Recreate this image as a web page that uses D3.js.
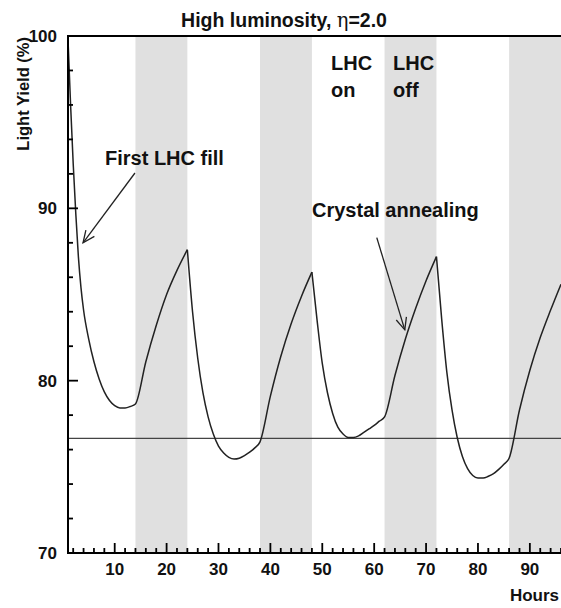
<!DOCTYPE html>
<html>
<head>
<meta charset="utf-8">
<script src="https://cdn.jsdelivr.net/npm/d3@7"></script>
<style>
  html, body { margin: 0; padding: 0; background: #fff; }
  svg { display: block; font-family: "Liberation Sans", Arial, Helvetica, sans-serif; }
  .lbl { font-weight: bold; fill: #111; }
</style>
</head>
<body>
<svg id="chart" width="561" height="608"></svg>
<script>
// Light yield of a crystal over four LHC fill cycles (hours vs %)
const hours = [1, 1.5, 2, 2.5, 3, 3.5, 4, 5, 6, 7, 8, 9, 10, 11, 12, 13, 14,
  16, 18, 20, 22, 24,
  25, 26, 27, 28, 29, 30, 31, 32, 33, 34, 35, 36, 37, 38,
  40, 42, 44, 46, 48,
  49, 50, 51, 52, 53, 54, 55, 56, 57, 58, 59, 60, 61, 62,
  64, 66, 68, 70, 72,
  73, 74, 75, 76, 77, 78, 79, 80, 81, 82, 83, 84, 85, 86,
  88, 90, 92, 94, 96];
const lightYield = [99.8, 96.0, 92.6, 89.7, 87.2, 85.4, 84.1, 82.4, 81.1, 80.1, 79.35, 78.85, 78.55, 78.42, 78.42, 78.5, 78.65,
  81.1, 83.2, 85.0, 86.4, 87.6,
  84.0, 81.3, 79.3, 77.9, 76.9, 76.2, 75.8, 75.55, 75.45, 75.5, 75.65, 75.85, 76.1, 76.45,
  79.1, 81.4, 83.3, 84.9, 86.3,
  83.5, 81.0, 79.3, 78.1, 77.3, 76.9, 76.7, 76.7, 76.8, 77.0, 77.2, 77.4, 77.65, 77.9,
  80.3, 82.4, 84.2, 85.8, 87.2,
  83.6, 80.5, 78.3, 76.7, 75.6, 74.9, 74.5, 74.35, 74.35, 74.45, 74.6, 74.85, 75.15, 75.5,
  78.3, 80.6, 82.5, 84.1, 85.6];
// Periods with the beam off (start, end in hours)
const lhcOff = [[14, 24], [38, 48], [62, 72], [86, 96]];
const refLevel = 76.65;
const xTicks = [10, 20, 30, 40, 50, 60, 70, 80, 90];
const yTicks = [70, 80, 90, 100];
const xDomain = [1, 96];
const yDomain = [70, 100];

const svg = d3.select("#chart");
const m = { left: 68, right: 561, top: 36, bottom: 553 };

const x = d3.scaleLinear().domain(xDomain).range([m.left, m.right]);
const y = d3.scaleLinear().domain(yDomain).range([m.bottom, m.top]);

// shaded beam-off bands
svg.append("g").selectAll("rect").data(lhcOff).join("rect")
  .attr("x", d => x(d[0]))
  .attr("width", d => x(d[1]) - x(d[0]))
  .attr("y", m.top)
  .attr("height", m.bottom - m.top)
  .attr("fill", "#e0e0e0");

// reference level
svg.append("line")
  .attr("x1", m.left).attr("x2", m.right)
  .attr("y1", y(refLevel)).attr("y2", y(refLevel))
  .attr("stroke", "#444").attr("stroke-width", 1.1);

// curve, split at the beam turn-on points so the peaks stay sharp
const cusps = lhcOff.map(d => d[1]).filter(h => h < xDomain[1]);
const pts = hours.map((h, i) => [h, lightYield[i]]);
const bounds = [xDomain[0], ...cusps, xDomain[1]];
const line = d3.line().x(d => x(d[0])).y(d => y(d[1])).curve(d3.curveMonotoneX);
for (let i = 0; i < bounds.length - 1; i++) {
  const seg = pts.filter(p => p[0] >= bounds[i] && p[0] <= bounds[i + 1]);
  svg.append("path").datum(seg)
    .attr("d", line)
    .attr("fill", "none")
    .attr("stroke", "#222")
    .attr("stroke-width", 1.5);
}

// frame lines
svg.append("line").attr("x1", m.left - 1).attr("x2", m.right).attr("y1", m.top).attr("y2", m.top)
  .attr("stroke", "#000").attr("stroke-width", 2);
svg.append("line").attr("x1", m.left).attr("x2", m.left).attr("y1", m.top - 1).attr("y2", m.bottom + 1)
  .attr("stroke", "#000").attr("stroke-width", 2);
svg.append("line").attr("x1", m.left - 1).attr("x2", m.right).attr("y1", m.bottom).attr("y2", m.bottom)
  .attr("stroke", "#000").attr("stroke-width", 2);

// inward ticks: long on labelled values, short every 2 units
const yMinor = d3.range(yDomain[0], yDomain[1] + 0.01, 2);
svg.append("g").selectAll("line").data(yMinor).join("line")
  .attr("x1", m.left)
  .attr("x2", d => m.left + (d % 10 === 0 ? 10 : 5))
  .attr("y1", d => y(d)).attr("y2", d => y(d))
  .attr("stroke", "#000").attr("stroke-width", 1.8);

const xMinor = d3.range(2, xDomain[1] + 0.01, 2);
svg.append("g").selectAll("line").data(xMinor).join("line")
  .attr("x1", d => x(d)).attr("x2", d => x(d))
  .attr("y1", m.bottom)
  .attr("y2", d => m.bottom - (d % 10 === 0 ? 10 : 5))
  .attr("stroke", "#000").attr("stroke-width", 1.8);

// tick labels
svg.append("g").selectAll("text").data(yTicks).join("text")
  .attr("class", "lbl")
  .attr("x", m.left - 11)
  .attr("y", d => y(d))
  .attr("dy", "0.36em")
  .attr("text-anchor", "end")
  .attr("font-size", 17)
  .text(d => d);

svg.append("g").selectAll("text").data(xTicks).join("text")
  .attr("class", "lbl")
  .attr("x", d => x(d))
  .attr("y", 575)
  .attr("text-anchor", "middle")
  .attr("font-size", 17)
  .text(d => d);

// axis titles
svg.append("text").attr("class", "lbl")
  .attr("transform", "translate(29,37) rotate(-90)")
  .attr("text-anchor", "end")
  .attr("font-size", 16.5)
  .text("Light Yield (%)");

svg.append("text").attr("class", "lbl")
  .attr("x", 559).attr("y", 601)
  .attr("text-anchor", "end")
  .attr("font-size", 17)
  .text("Hours");

// title
const title = svg.append("text").attr("class", "lbl")
  .attr("x", 284).attr("y", 27)
  .attr("text-anchor", "middle")
  .attr("font-size", 19.5);
title.append("tspan").text("High luminosity, ");
title.append("tspan").attr("font-family", "'DejaVu Serif', 'Liberation Serif', serif")
  .attr("font-weight", "normal").text("η");
title.append("tspan").text("=2.0");

// annotations
const ann = svg.append("g").attr("class", "lbl").attr("font-size", 20);
ann.append("text").attr("x", 331).attr("y", 70).text("LHC");
ann.append("text").attr("x", 331).attr("y", 97).text("on");
ann.append("text").attr("x", 393).attr("y", 70).text("LHC");
ann.append("text").attr("x", 393).attr("y", 97).text("off");
ann.append("text").attr("x", 105).attr("y", 165).text("First LHC fill");
ann.append("text").attr("x", 312).attr("y", 217).text("Crystal annealing");

// arrows (tail -> tip, in data units)
const arrows = [
  { from: [13.9, 92.05], to: [3.9, 88.0] },
  { from: [60.5, 88.3], to: [65.9, 82.95] }
];
arrows.forEach(a => {
  const x0 = x(a.from[0]), y0 = y(a.from[1]);
  const x1 = x(a.to[0]), y1 = y(a.to[1]);
  const ang = Math.atan2(y1 - y0, x1 - x0);
  const L = 13, w = 0.42;
  svg.append("line")
    .attr("x1", x0).attr("y1", y0).attr("x2", x1).attr("y2", y1)
    .attr("stroke", "#222").attr("stroke-width", 1.3);
  const p1 = [x1 - L * Math.cos(ang - w), y1 - L * Math.sin(ang - w)];
  const p2 = [x1 - L * Math.cos(ang + w), y1 - L * Math.sin(ang + w)];
  svg.append("path")
    .attr("d", `M${p1[0]},${p1[1]}L${x1},${y1}L${p2[0]},${p2[1]}`)
    .attr("fill", "none").attr("stroke", "#222").attr("stroke-width", 1.3);
});
</script>
</body>
</html>
